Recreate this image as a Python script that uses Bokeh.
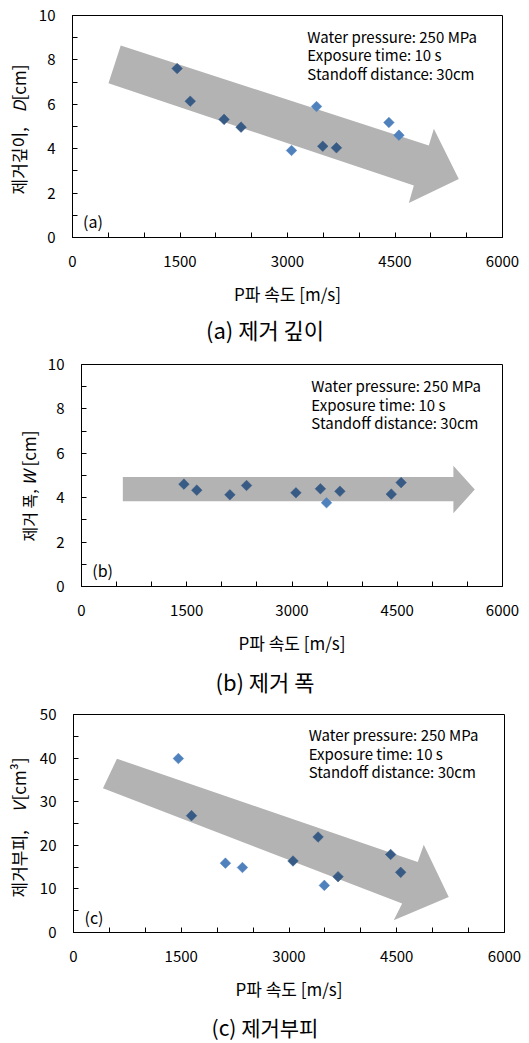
import math
from bokeh.plotting import figure
from bokeh.models import Label, FixedTicker, ColumnDataSource, Range1d
from bokeh.layouts import column, row
from bokeh.embed import file_html
from bokeh.resources import INLINE

# ---------------- data ----------------
p_wave_velocity = [1460, 1643, 2115, 2352, 3056, 3405, 3492, 3683, 4415, 4555]
depth_D = [7.61, 6.14, 5.32, 4.97, 3.92, 5.90, 4.11, 4.04, 5.18, 4.61]
width_W = [4.61, 4.34, 4.13, 4.55, 4.22, 4.40, 3.77, 4.29, 4.16, 4.68]
volume_V = [39.9, 26.8, 15.9, 14.9, 16.4, 21.9, 10.8, 12.8, 17.9, 13.8]

x_major_ticks = [0, 1500, 3000, 4500, 6000]
x_minor_ticks = [500, 1000, 2000, 2500, 3500, 4000, 5000, 5500]
y_major_ticks_dw = [0, 2, 4, 6, 8, 10]
y_minor_ticks_dw = [1, 3, 5, 7, 9]
y_major_ticks_v = [0, 10, 20, 30, 40, 50]
y_minor_ticks_v = [5, 15, 25, 35, 45]

conditions = ["Water pressure: 250 MPa", "Exposure time: 10 s", "Standoff distance: 30cm"]
x_title = "P파 속도 [m/s]"

# trend arrows (outline vertices in data units)
arrow_a_x = [673, 4972, 5042, 5390, 4693, 4763, 502]
arrow_a_y = [8.65, 4.14, 4.90, 2.64, 1.55, 2.34, 6.95]
arrow_b_x = [589, 5300, 5300, 5605, 5300, 5300, 589]
arrow_b_y = [4.93, 4.93, 5.44, 4.37, 3.30, 3.84, 3.84]
arrow_c_x = [605, 4792, 4876, 5224, 4458, 4575, 410]
arrow_c_y = [39.85, 16.17, 20.15, 8.15, 2.82, 6.64, 33.1]

FONT = "Noto Sans CJK KR"
MARKER = (79, 129, 189)
ARROW = (179, 179, 179)
PAGE_W = 529


def hexc(c):
    return "#%02x%02x%02x" % tuple(int(round(v)) for v in c)


def inside(px, py, xs, ys):
    n = len(xs)
    res = False
    j = n - 1
    for i in range(n):
        if (ys[i] > py) != (ys[j] > py):
            xi = xs[i] + (py - ys[i]) * (xs[j] - xs[i]) / (ys[j] - ys[i])
            if px < xi:
                res = not res
        j = i
    return res


def marker_colors(xs, ys, ax, ay):
    # the grey arrow darkens (multiplies) the markers it covers
    dark = tuple(m * a / 255.0 for m, a in zip(MARKER, ARROW))
    return [hexc(dark) if inside(x, y, ax, ay) else hexc(MARKER) for x, y in zip(xs, ys)]


def blank(w, h, top=0, fh=None):
    if fh is None:
        fh = h
    f = figure(width=w, height=h, x_range=(0, w), y_range=Range1d(h - top - fh, h - top),
               x_axis_type=None, y_axis_type=None, min_border=0,
               output_backend="svg", toolbar_location=None)
    f.grid.visible = False
    f.outline_line_color = None
    return f


def main_fig(ys, ymax, y_major, y_minor, ax, ay, left, top, fw, fh, height,
             text_x, text_ys, tag):
    right = PAGE_W - left - fw
    p = figure(height=height, frame_width=fw, frame_height=fh,
               min_border_left=left, min_border_top=top,
               min_border_bottom=height - top - fh, min_border_right=right,
               x_range=(0, 6000), y_range=(0, ymax),
               output_backend="svg", toolbar_location=None)
    p.grid.visible = False
    p.outline_line_color = "black"
    p.outline_line_width = 1
    for axis, maj, mnr in ((p.xaxis[0], x_major_ticks, x_minor_ticks), (p.yaxis[0], y_major, y_minor)):
        axis.ticker = FixedTicker(ticks=maj, minor_ticks=mnr)
        axis.axis_line_color = "black"
        axis.major_tick_in = 5
        axis.major_tick_out = 0
        axis.minor_tick_in = 5
        axis.minor_tick_out = 0
        axis.major_tick_line_color = "black"
        axis.minor_tick_line_color = "black"
        axis.major_label_text_font = FONT
        axis.major_label_text_font_size = "15px"
        axis.major_label_text_color = "black"
    p.xaxis[0].major_label_standoff = 18
    p.yaxis[0].major_label_standoff = 17
    p.xaxis[0].axis_label = x_title
    p.xaxis[0].axis_label_text_font = FONT
    p.xaxis[0].axis_label_text_font_size = "17px"
    p.xaxis[0].axis_label_text_font_style = "normal"
    p.xaxis[0].axis_label_text_color = "black"
    p.xaxis[0].axis_label_standoff = 11

    src = ColumnDataSource(dict(x=p_wave_velocity, y=ys,
                                c=marker_colors(p_wave_velocity, ys, ax, ay)))
    p.patch(ax, ay, fill_color=hexc(ARROW), line_color=None)
    p.scatter("x", "y", source=src, marker="square", angle=math.pi / 4, size=7.5,
              fill_color="c", line_color="c", line_width=0.5)

    for t, ty in zip(conditions, text_ys):
        p.add_layout(Label(x=text_x, y=ty, text=t, text_font=FONT, text_font_size="15px",
                           text_baseline="middle", text_align="left", text_color="black"))
    p.add_layout(Label(x=tag[0], y=tag[1], text=tag[2], text_font=FONT,
                       text_font_size="16px", text_baseline="middle", text_align="left",
                       text_color="black"))
    return p


def ylabel_fig(w, h, top, fh, xc, parts):
    # its frame is aligned with the neighbouring plot's frame inside the row
    f = blank(w, h, top, fh)
    for txt, y_from_top, style, size in parts:
        f.add_layout(Label(x=xc, y=h - y_from_top, text=txt, angle=90, angle_units="deg",
                           text_font=FONT, text_font_size=size, text_font_style=style,
                           text_baseline="middle", text_align="left", text_color="black"))
    return f


def caption_fig(h, yc_from_top, text, size="22px"):
    f = blank(PAGE_W, h)
    f.add_layout(Label(x=PAGE_W / 2, y=h - yc_from_top, text=text, text_font=FONT,
                       text_font_size=size, text_baseline="middle", text_align="center",
                       text_color="black"))
    return f


LAT = "17px"

# ---- panel (a): page rows 0..345 ----
LA = 30
pa = main_fig(depth_D, 10, y_major_ticks_dw, y_minor_ticks_dw, arrow_a_x, arrow_a_y,
              left=72 - LA, top=15, fw=430, fh=222, height=312,
              text_x=3277, text_ys=[9.07, 8.23, 7.40], tag=(148, 0.75, "(a)"))
la = ylabel_fig(LA, 312, 15, 222, 18.3,
                [("제거깊이,", 194, "normal", "17px"), ("D", 112, "italic", LAT),
                 ("[cm]", 100, "normal", LAT)])
ca = caption_fig(33, 16, "(a) 제거 깊이")

# ---- panel (b): page rows 345..700 ----
LB = 44
pb = main_fig(width_W, 10, y_major_ticks_dw, y_minor_ticks_dw, arrow_b_x, arrow_b_y,
              left=81 - LB, top=19, fw=421, fh=222, height=315,
              text_x=3276, text_ys=[9.05, 8.20, 7.39], tag=(153, 0.75, "(b)"))
lb = ylabel_fig(LB, 315, 19, 222, 28.0,
                [("제거 폭,", 541 - 345, "normal", "16px"), ("W", 485 - 345, "italic", LAT),
                 ("[cm]", 466 - 345, "normal", LAT)])
cb = caption_fig(40, 20, "(b) 제거 폭")

# ---- panel (c): page rows 700..1043 ----
LC = 30
pc = main_fig(volume_V, 50, y_major_ticks_v, y_minor_ticks_v, arrow_c_x, arrow_c_y,
              left=73 - LC, top=14, fw=431, fh=218, height=305,
              text_x=3274, text_ys=[45.3, 41.1, 36.9], tag=(153, 3.57, "(c)"))
lc = ylabel_fig(LC, 305, 14, 218, 18.3,
                [("제거부피,", 897 - 700, "normal", "17px"), ("V", 812 - 700, "italic", LAT),
                 ("[cm³]", 800 - 700, "normal", LAT)])
cc = caption_fig(38, 21, "(c) 제거부피", size="21px")

layout = column(row(la, pa, spacing=0), ca, row(lb, pb, spacing=0), cb,
                row(lc, pc, spacing=0), cc, spacing=0)
open("out.html", "w").write(file_html(layout, INLINE))
